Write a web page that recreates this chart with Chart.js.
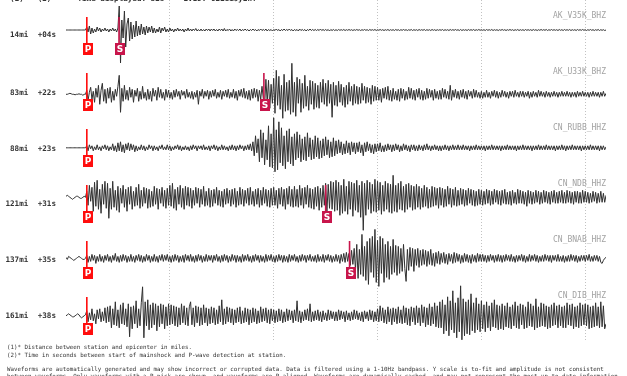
<!DOCTYPE html>
<html><head><meta charset="utf-8">
<script src="https://cdn.jsdelivr.net/npm/chart.js@4.4.1/dist/chart.umd.min.js"></script>
<style>
html,body{margin:0;padding:0;background:#fff;}
#wrap{position:relative;width:627px;height:376px;overflow:hidden;background:#fff;}
canvas{position:absolute;left:0;top:0;}
.t{position:absolute;white-space:pre;font-family:"DejaVu Sans Mono",monospace;}
.lab{font-size:7.6px;font-weight:bold;color:#333;line-height:10px;text-align:right;}
.sta{font-size:8px;color:#a3a3a3;line-height:10px;text-align:right;right:21px;}
.hdr{font-size:7.6px;font-weight:bold;color:#333;line-height:10px;}
.ftr{font-size:5.8px;color:#333;line-height:8px;left:7px;}
</style></head><body>
<div id="wrap"><canvas id="c" width="627" height="376"></canvas></div>
<script>
// ---- data ----
const timeWindow = 52;          // seconds displayed
const sampleStep = 0.125;       // seconds between samples
const stationCodes = ['AK_V35K_BHZ','AK_U33K_BHZ','CN_RUBB_HHZ','CN_NDB_HHZ','CN_BNAB_HHZ','CN_DIB_HHZ'];
const distanceLabels = ['14mi','83mi','88mi','121mi','137mi','161mi'];
const delayLabels = ['+04s','+22s','+23s','+31s','+35s','+38s'];
const pPickTimes = [2.0, 2.0, 2.0, 2.0, 2.0, 2.0];
const sPickTimes = [5.1, 19.05, null, 25.0, 27.3, null];
const gridTimes = [10, 20, 30, 40, 50];

// each row = 2 s of samples
const waveV35K = [
0,0,0,0,0,0,0,0,0,0,0,0,0,0,0,0,
3,-2,4,-4,2,-3,1,-2,3,-1,2,-2,1,-1,2,-1,
1,-2,1,-1,2,-1,1,-2,2,24,-33,10,-8,19,-17,6,
12,-11,8,-9,5,-7,9,-6,4,-5,6,-4,3,-5,4,-3,
3,-2,4,-3,2,-3,1,-2,3,-3,2,-1,3,-2,1,-2,
2,-1,1,-2,1,-1,2,-1,1,-1,1,-2,1,-1,2,-1,
1,-1,1,-0.5,1.5,-1,0.5,-1,1,-1,0.5,-1,1,-0.5,1,-1,
1,-0.5,1,-1,0.5,-1,1,-0.5,1,-1,1.5,-1,0.5,-0.5,1,-1,
0.5,-1,1,-0.5,0.5,-0.5,1,-1,0.5,-0.5,1,-0.5,0.5,-1,0.5,-0.5,
1,-0.5,0.5,-1,0.5,-0.5,1,-0.5,0.5,-0.5,1,-1,0.5,-0.5,0.5,-1,
0.5,-0.5,1,-0.5,0.5,-1,0.5,-0.5,1,-0.5,0.5,-0.5,1,-0.5,0.5,-1,
0.5,-0.5,0.5,-1,1,-0.5,0.5,-0.5,0.5,-1,0.5,-0.5,1,-0.5,0.5,-0.5,
0.5,-0.5,0.5,-0.5,1,-0.5,0.5,-0.5,0.5,-0.5,0.5,-1,0.5,-0.5,0.5,-0.5,
0.3,-0.5,0.5,-0.3,0.3,-0.3,0.5,-0.5,0.3,-0.3,0.5,-0.3,0.3,-0.5,0.3,-0.3,
0.5,-0.3,0.3,-0.5,0.3,-0.3,0.5,-0.3,0.3,-0.5,0.5,-0.3,0.3,-0.3,0.5,-0.5,
0.3,-0.3,0.5,-0.3,0.3,-0.5,0.3,-0.3,0.5,-0.5,0.3,-0.3,0.3,-0.5,0.5,-0.3,
0.3,-0.5,0.3,-0.3,0.5,-0.3,0.3,-0.5,0.3,-0.3,0.5,-0.5,0.3,-0.3,0.3,-0.5,
0.5,-0.3,0.3,-0.3,0.5,-0.5,0.3,-0.3,0.3,-0.5,0.5,-0.3,0.3,-0.5,0.3,-0.3,
0.3,-0.3,0.5,-0.5,0.3,-0.3,0.3,-0.5,0.5,-0.3,0.3,-0.3,0.5,-0.3,0.3,-0.5,
0.5,-0.5,0.3,-0.3,0.3,-0.5,0.5,-0.3,0.3,-0.3,0.5,-0.5,0.3,-0.3,0.5,-0.3,
0.3,-0.3,0.3,-0.5,0.5,-0.3,0.3,-0.3,0.5,-0.5,0.3,-0.3,0.3,-0.5,0.3,-0.3,
0.5,-0.3,0.3,-0.5,0.3,-0.3,0.5,-0.3,0.3,-0.5,0.3,-0.3,0.5,-0.5,0.3,-0.3,
0.3,-0.5,0.5,-0.3,0.3,-0.3,0.3,-0.5,0.5,-0.3,0.3,-0.5,0.3,-0.3,0.5,-0.3,
0.3,-0.3,0.5,-0.5,0.3,-0.3,0.5,-0.3,0.3,-0.3,0.3,-0.5,0.5,-0.3,0.3,-0.5,
0.5,-0.3,0.3,-0.3,0.5,-0.5,0.3,-0.3,0.3,-0.5,0.5,-0.3,0.3,-0.3,0.5,-0.3,
0.3,-0.5,0.3,-0.3,0.5,-0.3,0.3,-0.5,0.3,-0.3,0.5,-0.5,0.3,-0.3,0.3,-0.5,
0];

const waveU33K = [
0,0,0.5,1,0.5,0,0,-0.5,0,0,0.5,0,0,-1,0,0,
4,-6,2,7,-5,3,-8,6,-3,9,-10,4,11,-7,5,-9,
6,-4,7,-8,3,-6,5,-2,8,19,-18,6,-7,9,-5,4,
-6,7,-3,5,-8,4,-2,6,-7,3,-5,8,-4,2,-6,5,
-5,3,-7,6,-2,4,-6,7,-3,5,-4,2,-6,5,-3,4,
-4,2,-5,4,-3,5,-2,3,-5,4,-1,3,-4,5,-3,2,
-4,3,-5,2,-3,4,-10,3,-2,5,-4,3,-2,4,-5,3,
-3,4,-2,5,-4,2,-3,4,-5,3,-2,4,-3,5,-4,2,
-3,5,-4,3,-6,4,-2,5,-3,6,-4,3,-5,4,-6,5,
-4,6,-3,5,-7,4,-5,8,-4,-12,15,-8,14,-14,10,-9,
16,-19,24,-11,18,-15,9,-24,20,-17,12,-16,14,-20,31,-18,
12,-22,17,-9,15,-18,11,-14,19,-12,8,-16,14,-10,13,-15,
11,-13,9,-14,12,-8,15,-10,11,-12,14,-9,10,-23,12,-11,
9,-12,13,-8,10,-11,7,-13,9,-10,12,-7,8,-11,10,-9,
8,-10,7,-9,11,-6,8,-9,7,-8,6,-10,9,-7,8,-6,
7,-6,5,-8,6,-4,7,-5,8,-6,4,-7,6,-5,3,-6,
5,-7,6,-4,5,-6,3,-5,7,-4,6,-5,4,-6,5,-3,
6,-5,4,-6,3,-5,6,-4,5,-3,4,-6,5,-4,3,-5,
4,-5,6,-3,5,-4,3,-5,9,-6,4,-3,5,-4,3,-5,
4,-3,5,-4,3,-5,4,-2,3,-4,5,-3,4,-3,2,-4,
3,-4,2,-3,4,-3,2,-4,3,-2,4,-3,3,-4,2,-3,
4,-2,3,-3,2,-4,3,-2,3,-3,4,-2,2,-3,3,-2,
3,-3,2,-2,3,-4,2,-3,3,-2,2,-3,4,-2,3,-2,
2,-3,3,-2,2,-3,2,-2,3,-2,2,-3,2,-2,3,-2,
2,-2,3,-2,2,-3,2,-2,2,-3,3,-2,2,-2,3,-2,
2,-2,2,-3,2,-2,3,-2,2,-2,2,-3,2,-2,3,-2,
1];

const waveRUBB = [
0,0,0,0,0,0,0,0,0,0,0,0,0,0,0,0,
2,-3,3,-1,2,-3,1,-2,3,-2,1,-3,2,-1,3,-2,
2,-3,1,-2,4,-3,2,-4,5,-3,6,-4,3,-5,4,-2,
5,-3,4,-2,3,-4,2,-3,1,-2,3,-2,2,-3,1,-2,
3,-1,2,-3,2,-2,1,-3,2,-1,3,-2,1,-2,3,-2,
2,-3,1,-2,2,-1,3,-2,2,-3,1,-2,2,-2,1,-3,
2,-2,3,-1,2,-3,2,-1,2,-2,3,-2,1,-2,2,-3,
2,-1,3,-2,2,-3,1,-2,3,-2,2,-2,1,-3,2,-2,
3,-2,2,-3,2,-2,3,-1,2,-3,2,-2,3,-2,4,-3,
6,-8,12,-5,9,-14,18,-10,15,-17,8,-12,22,-19,14,-20,
30,-24,18,-22,26,-15,20,-18,12,-21,17,-14,19,-16,11,-18,
14,-12,16,-10,13,-14,9,-12,11,-13,15,-9,10,-12,8,-11,
12,-9,10,-11,7,-10,9,-8,11,-7,8,-10,6,-9,10,-8,
7,-6,8,-5,6,-7,4,-6,7,-5,5,-7,6,-4,5,-6,
5,-4,6,-5,3,-8,5,-4,6,-3,4,-5,3,-6,4,-4,
4,-3,5,-4,2,-4,3,-3,4,-2,3,-4,3,-3,4,-2,
3,-4,2,-3,4,-2,3,-3,2,-4,3,-2,3,-3,2,-3,
3,-2,2,-3,3,-2,4,-2,2,-3,2,-2,3,-2,2,-3,
2,-3,2,-2,3,-2,2,-3,2,-2,3,-2,2,-2,3,-2,
2,-2,3,-2,2,-2,2,-3,2,-2,2,-2,3,-2,2,-2,
2,-2,2,-3,2,-2,2,-2,3,-2,2,-2,2,-2,2,-3,
2,-2,2,-2,3,-2,2,-2,2,-2,2,-3,2,-2,2,-2,
3,-2,2,-2,2,-2,2,-3,2,-2,2,-2,3,-2,2,-2,
2,-2,3,-2,2,-2,2,-2,2,-3,2,-2,2,-2,3,-2,
2,-3,2,-2,2,-2,3,-2,2,-2,2,-2,2,-3,2,-2,
2,-2,2,-2,3,-2,2,-2,2,-2,2,-3,2,-2,2,-2,
1];

const waveNDB = [
1,2,1,0,-1,-2,-1,0,1,1,0,-1,-1,0,1,0,
6,-8,12,-4,10,-14,15,-9,17,-12,8,-16,13,-7,16,-11,
14,-21,9,-12,16,-10,7,-13,11,-15,9,-6,12,-10,8,-14,
10,-7,11,-12,6,-9,10,-8,13,-11,7,-9,10,-6,9,-11,
8,-10,6,-9,11,-7,9,-12,8,-6,10,-9,7,-11,9,-8,
12,-9,14,-11,8,-13,10,-7,12,-10,9,-12,11,-8,10,-9,
9,-11,7,-8,10,-6,9,-10,8,-7,11,-9,6,-8,9,-10,
7,-9,8,-6,10,-8,7,-9,6,-10,8,-7,9,-6,7,-9,
8,-7,9,-10,6,-8,10,-7,8,-9,7,-6,9,-8,10,-7,
6,-9,8,-7,9,-10,7,-8,10,-6,8,-9,7,-10,9,-8,
10,-8,7,-11,9,-7,10,-9,8,-12,9,-7,11,-9,8,-10,
11,-9,8,-10,12,-8,9,-11,10,-7,12,-10,9,-11,8,-12,
10,-9,11,-13,9,-10,12,-8,14,-15,13,-11,16,-12,15,-14,
17,-13,15,-18,12,-16,18,-14,11,-17,16,-12,15,-19,14,-13,
17,-15,12,-20,16,-33,14,-18,17,-12,15,-16,13,-14,18,-15,
16,-13,15,-17,12,-14,16,-12,14,-15,13,-16,22,-14,12,-15,
14,-12,16,-13,11,-15,13,-12,14,-10,12,-13,11,-12,13,-10,
11,-12,9,-10,12,-9,10,-11,8,-10,11,-9,10,-8,9,-11,
10,-8,9,-10,8,-9,11,-7,9,-10,8,-8,10,-9,7,-8,
9,-7,8,-9,7,-8,9,-6,8,-8,7,-9,6,-8,8,-7,
7,-8,6,-7,8,-6,7,-8,6,-7,8,-5,7,-7,6,-8,
7,-6,8,-7,5,-7,6,-8,7,-6,5,-7,8,-6,7,-6,
6,-7,5,-9,7,-6,6,-7,5,-6,7,-5,6,-7,5,-6,
7,-5,6,-6,5,-7,6,-5,7,-6,5,-6,6,-5,7,-6,
5,-6,7,-5,6,-6,5,-7,6,-5,6,-6,5,-6,7,-5,
6,-5,5,-6,4,-5,6,-4,5,-6,4,-5,6,-5,4,-5,
2];

const waveBNAB = [
1,-1,2,1,0,-1,-2,-1,0,1,2,1,0,-1,-1,0,
3,-4,2,-3,4,-2,3,-5,2,-3,4,-3,2,-4,3,-2,
4,-3,2,-4,3,-2,5,-3,2,-4,3,-3,4,-2,3,-4,
2,-3,4,-3,2,-4,3,-2,4,-3,3,-4,2,-3,4,-2,
3,-4,2,-3,4,-3,2,-4,3,-2,4,-3,3,-2,4,-3,
2,-4,3,-3,4,-2,3,-4,2,-3,3,-4,4,-2,3,-3,
4,-3,2,-4,3,-3,4,-2,3,-4,2,-3,4,-3,3,-2,
3,-4,3,-2,4,-3,2,-4,3,-3,4,-2,3,-4,2,-3,
4,-2,3,-4,3,-3,2,-4,4,-3,3,-2,4,-3,2,-4,
3,-3,4,-2,3,-4,3,-3,2,-4,4,-3,3,-2,4,-3,
2,-4,3,-3,4,-2,3,-4,3,-3,2,-4,4,-3,3,-2,
4,-3,2,-4,3,-3,4,-2,3,-4,3,-2,4,-3,2,-3,
3,-4,4,-3,2,-3,4,-4,3,-2,4,-3,3,-4,2,-3,
4,-3,3,-5,4,-3,5,-4,6,-3,5,-7,8,-6,10,-12,
14,-20,9,-16,24,-18,12,-22,17,-26,20,-14,22,-19,29,-24,
18,-28,22,-15,20,-24,14,-19,17,-21,12,-16,19,-14,13,-17,
12,-15,10,-13,14,-10,-23,9,-12,11,-8,10,-13,9,-7,10,
-9,8,-7,9,-6,8,-8,7,-6,9,-7,5,-8,6,-5,7,
-6,5,-4,6,-5,4,-6,5,-3,4,-5,6,-4,5,-3,4,
-5,3,-4,5,-3,4,-4,3,-5,4,-3,3,-4,5,-3,4,
-3,4,-3,3,-4,3,-3,4,-2,3,-4,3,-3,4,-3,3,
-4,3,-3,4,-2,3,-3,4,-3,2,-4,3,-3,3,-2,4,
-3,3,-4,2,-3,4,-3,3,-2,4,-3,3,-4,2,-3,3,
-3,4,-2,3,-3,3,-4,3,-2,3,-3,4,-3,2,-3,3,
-4,2,-3,3,-3,4,-2,3,-3,3,-4,2,-3,3,-2,3,
-3,3,-2,4,-3,2,-3,3,-2,3,-3,2,-4,-5,-2,0,
1];

const waveDIB = [
0,1,2,1,0,-1,-1,0,1,2,1,-1,-2,-1,0,1,
5,-6,3,-4,7,-5,2,-8,6,-3,7,-6,4,-5,8,-7,
9,-6,10,-12,7,-9,14,-10,6,-12,11,-8,13,-9,7,-11,
12,-21,9,-13,10,-8,15,-12,7,-10,13,29,-22,14,-10,16,
-14,11,-12,13,-9,12,-15,10,-11,12,-8,11,-13,9,-10,12,
-9,11,-8,10,-10,9,-11,8,-9,12,-7,10,-9,8,-10,9,
14,-9,8,-11,10,-7,9,-10,8,-9,11,-7,8,-10,7,-8,
9,-7,8,-9,6,-8,10,-6,16,-9,7,-8,9,-6,8,-7,
7,-9,6,-7,8,-6,9,-8,5,-7,8,-6,7,-9,6,-7,
8,-6,7,-8,5,-7,9,-6,7,-5,8,-7,6,-8,7,-5,
6,-7,5,-6,7,-5,6,-7,4,-6,7,-5,6,-4,5,-7,
6,-5,15,-6,5,-7,4,-5,6,-4,7,-5,12,-6,4,-5,
5,-4,6,-5,4,-6,5,-4,3,-5,6,-4,5,-3,4,-5,
4,-5,6,-4,5,-3,4,-6,5,-4,3,-5,4,-4,6,-3,
5,-4,3,-5,4,-6,5,-3,4,-5,6,-4,5,-6,4,-5,
7,-6,10,-5,8,-7,6,-8,9,-6,7,-9,8,-6,7,-8,
9,-7,6,-8,10,-7,8,-9,7,-10,9,-6,8,-9,10,-7,
8,-10,11,-7,9,-11,8,-9,12,-10,9,-8,13,-11,10,-12,
14,-12,16,-18,11,-15,19,-20,15,-14,25,-17,13,-22,18,-16,
30,-24,17,-20,14,-18,16,-19,22,-15,13,-17,18,-14,12,-16,
15,-13,11,-16,14,-12,10,-15,13,-11,16,-12,11,-14,10,-13,
12,-14,10,-11,13,-12,9,-13,11,-10,14,-12,10,-13,12,-9,
11,-13,9,-12,14,-10,12,-11,10,-14,17,-12,9,-11,13,-10,
12,-11,10,-13,9,-12,11,-10,13,-9,10,-12,11,-10,9,-12,
10,-12,13,-9,11,-10,12,-13,9,-11,10,-12,13,-10,11,-9,
12,-10,11,-13,9,-12,10,-11,13,-10,9,-12,14,-11,10,-13,
-8];

const waves = [waveV35K, waveU33K, waveRUBB, waveNDB, waveBNAB, waveDIB];

// ---- layout (pixels) ----
const traceZero = [30, 94.3, 147.8, 197.3, 258.4, 315.8];
const labelCenters = [34.8, 93.3, 148.7, 204, 260, 316];
const stationCenters = [16, 72, 128, 184, 239.5, 295.5];
const plotBottom = 342;

const wrap = document.getElementById('wrap');
function addText(cls, txt, style){
  const d = document.createElement('div');
  d.className = 't ' + cls;
  d.textContent = txt;
  Object.assign(d.style, style);
  wrap.appendChild(d);
}
addText('hdr', '(1)*', {left:'0px', width:'28.3px', textAlign:'right', top:'-6.5px'});
addText('hdr', '(2)*', {left:'0px', width:'56px', textAlign:'right', top:'-6.5px'});
addText('hdr', 'Time displayed: ' + timeWindow + 's', {left:'77.5px', top:'-6.5px'});
addText('hdr', 'EvID: 0218i9y2hT', {left:'183.5px', top:'-6.5px'});
for (let i = 0; i < 6; i++) {
  addText('lab', distanceLabels[i], {left:'0px', width:'28.3px', top:(labelCenters[i]-5)+'px'});
  addText('lab', delayLabels[i], {left:'0px', width:'56px', top:(labelCenters[i]-5)+'px'});
  addText('sta', stationCodes[i], {top:(stationCenters[i]-5)+'px'});
}
const footer = [
  ['(1)* Distance between station and epicenter in miles.', 346.5],
  ['(2)* Time in seconds between start of mainshock and P-wave detection at station.', 354.5],
  ['Waveforms are automatically generated and may show incorrect or corrupted data. Data is filtered using a 1-10Hz bandpass. Y scale is to-fit and amplitude is not consistent', 368.5],
  ['between waveforms. Only waveforms with a P-pick are shown, and waveforms are P-aligned. Waveforms are dynamically cached, and may not represent the most up-to-date information', 375.8]
];
footer.forEach(([txt, cy]) => addText('ftr', txt, {top:(cy-4)+'px'}));

const datasets = waves.map((vals, i) => ({
  label: stationCodes[i],
  data: vals.map((v, k) => ({x: k * sampleStep, y: traceZero[i] - v})),
  borderColor: '#303030',
  borderWidth: 1,
  pointRadius: 0,
  tension: 0,
  fill: false
}));

function drawPick(ctx, px, i, letter, color){
  const top = 17 + 56 * i, boxTop = 43 + 56 * i;
  ctx.fillStyle = color;
  ctx.fillRect(px - 0.75, top, 1.6, boxTop - top);
  ctx.fillRect(Math.round(px) - 4, boxTop, 10, 12);
  ctx.fillStyle = '#fff';
  ctx.font = 'bold 9px "DejaVu Sans", sans-serif';
  ctx.textAlign = 'center';
  ctx.textBaseline = 'middle';
  ctx.fillText(letter, Math.round(px) + 1, boxTop + 6.5);
}
const pickPlugin = {
  id: 'picks',
  afterDatasetsDraw(chart){
    const {ctx} = chart; const xs = chart.scales.x;
    ctx.save();
    for (let i = 0; i < waves.length; i++) {
      drawPick(ctx, xs.getPixelForValue(pPickTimes[i]), i, 'P', '#ff0d0d');
      if (sPickTimes[i] != null) drawPick(ctx, xs.getPixelForValue(sPickTimes[i]), i, 'S', '#c8154b');
    }
    ctx.restore();
  }
};

new Chart(document.getElementById('c'), {
  type: 'line',
  data: {datasets},
  options: {
    responsive: false,
    devicePixelRatio: 1,
    animation: false,
    layout: {padding: {left: 66, right: 21, top: 0, bottom: 376 - plotBottom}},
    plugins: {legend: {display: false}, tooltip: {enabled: false}},
    scales: {
      x: {
        type: 'linear', min: 0, max: timeWindow,
        afterBuildTicks: ax => { ax.ticks = gridTimes.map(v => ({value: v})); },
        ticks: {display: false},
        grid: {color: '#c2c2c2', lineWidth: 1, drawTicks: false},
        border: {display: false, dash: [1, 2]}
      },
      y: {type: 'linear', min: 0, max: plotBottom, reverse: true, display: false}
    }
  },
  plugins: [pickPlugin]
});
</script>
</body></html>
